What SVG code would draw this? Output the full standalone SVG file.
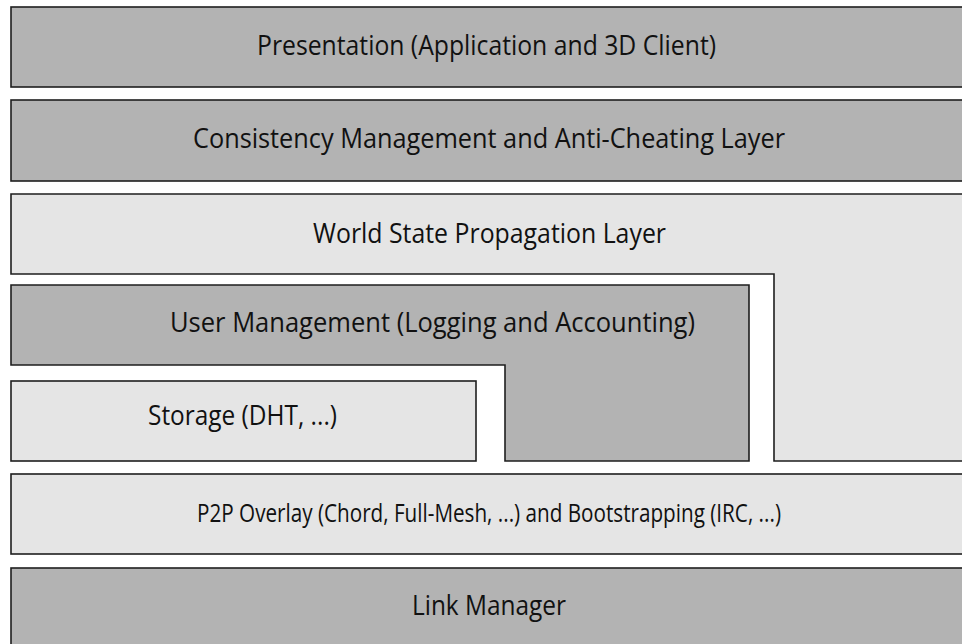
<svg xmlns="http://www.w3.org/2000/svg" width="962" height="644" viewBox="0 0 962 644">
  <style>
    .dark { fill: #b3b3b3; stroke: #1e1e1e; stroke-width: 1.6; }
    .light { fill: #e5e5e5; stroke: #1e1e1e; stroke-width: 1.6; }
    .label { font-family: "Open Sans", "Noto Sans", sans-serif; font-size: 27px; fill: #111; }
    .long { font-size: 25px; }
  </style>
  <rect width="962" height="644" fill="#ffffff"/>

  <g id="presentation">
    <rect class="dark" x="11" y="7" width="965" height="80"/>
    <text class="label" x="257" y="55" textLength="459" lengthAdjust="spacingAndGlyphs">Presentation (Application and 3D Client)</text>
  </g>

  <g id="consistency">
    <rect class="dark" x="11" y="100" width="965" height="81"/>
    <text class="label" x="193" y="148" textLength="592" lengthAdjust="spacingAndGlyphs">Consistency Management and Anti-Cheating Layer</text>
  </g>

  <g id="world-state">
    <path class="light" d="M11,194 H976 V461 H774 V274 H11 Z"/>
    <text class="label" x="313" y="243" textLength="353" lengthAdjust="spacingAndGlyphs">World State Propagation Layer</text>
  </g>

  <g id="user-management">
    <path class="dark" d="M11,285 H749 V461 H505 V365 H11 Z"/>
    <text class="label" x="170" y="332" textLength="525" lengthAdjust="spacingAndGlyphs">User Management (Logging and Accounting)</text>
  </g>

  <g id="storage">
    <rect class="light" x="11" y="381" width="465" height="80"/>
    <text class="label" x="148" y="425" textLength="189" lengthAdjust="spacingAndGlyphs">Storage (DHT, ...)</text>
  </g>

  <g id="p2p-overlay">
    <rect class="light" x="11" y="474" width="965" height="80"/>
    <text class="label long" x="197" y="522" textLength="584" lengthAdjust="spacingAndGlyphs">P2P Overlay (Chord, Full-Mesh, ...) and Bootstrapping (IRC, ...)</text>
  </g>

  <g id="link-manager">
    <rect class="dark" x="11" y="568" width="965" height="90"/>
    <text class="label" x="412" y="615" textLength="154" lengthAdjust="spacingAndGlyphs">Link Manager</text>
  </g>

  <g id="connectors"></g>
</svg>
